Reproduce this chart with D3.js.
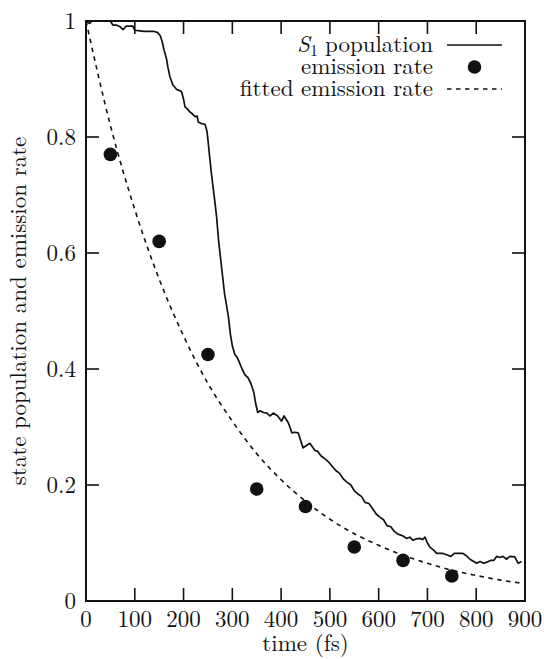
<!DOCTYPE html>
<html><head><meta charset="utf-8">
<script src="https://cdn.jsdelivr.net/npm/d3@7"></script>
<style>
body{margin:0;background:#fff;}
</style></head>
<body><svg id="c" width="544" height="659"></svg>
<script>
const popTime = [0,4,8,12,30,50,55,62,70,76,82,90,96,100,110,120,130,140,147,152,156,160,165,168,172,178,186,192,196,200,203,208,213,218,224,228,230,237,244,248,250,253,257,261,264,268,272,276,280,284,288,292,296,300,305,310,315,320,326,332,338,344,348,352,357,364,371,377,384,393,401,406,415,422,428,435,445,452,459,469,475,482,490,497,505,512,520,528,535,543,550,557,565,572,580,587,595,602,610,617,625,632,640,644,650,657,664,670,677,684,690,695,700,705,712,719,725,732,742,748,755,762,773,780,787,795,801,808,815,822,829,836,842,848,855,862,869,879,886,893];
const popValue = [1.0,0.997,0.996,1.0,1.0,1.0,0.993,0.993,0.99,0.985,0.991,0.991,0.991,0.984,0.983,0.982,0.982,0.982,0.98,0.975,0.965,0.95,0.935,0.92,0.904,0.89,0.882,0.88,0.878,0.865,0.852,0.848,0.843,0.84,0.835,0.836,0.826,0.823,0.822,0.81,0.795,0.77,0.738,0.71,0.69,0.66,0.62,0.59,0.56,0.53,0.51,0.49,0.46,0.44,0.425,0.42,0.41,0.40,0.39,0.385,0.375,0.36,0.34,0.325,0.328,0.325,0.324,0.319,0.324,0.319,0.31,0.319,0.307,0.29,0.291,0.29,0.264,0.268,0.272,0.26,0.258,0.25,0.245,0.24,0.232,0.225,0.22,0.21,0.205,0.2,0.19,0.185,0.18,0.17,0.168,0.16,0.15,0.145,0.14,0.13,0.128,0.12,0.115,0.114,0.112,0.108,0.11,0.105,0.107,0.108,0.106,0.11,0.1,0.093,0.088,0.082,0.082,0.082,0.079,0.077,0.082,0.082,0.082,0.078,0.072,0.068,0.065,0.068,0.065,0.067,0.07,0.07,0.077,0.075,0.077,0.072,0.077,0.076,0.065,0.068];
const emisTime = [50,150,250,350,450,550,650,750];
const emisValue = [0.77,0.62,0.425,0.193,0.163,0.093,0.07,0.043];
const fitTime = [0,50,100,150,200,250,300,350,400,450,500,550,600,650,700,750,800,850,900];
const fitValue = [1,0.82,0.675,0.555,0.457,0.375,0.31,0.254,0.209,0.172,0.141,0.116,0.096,0.079,0.065,0.053,0.044,0.036,0.03];
const xTicks = [0,100,200,300,400,500,600,700,800,900];
const yTicks = [0,0.2,0.4,0.6,0.8,1];
const yTickLabels = ["0","0.2","0.4","0.6","0.8","1"];
const legendLabels = ["population","emission rate","fitted emission rate"];

const FONT = '"Latin Modern Roman","CMU Serif","Liberation Serif",serif';
const svg = d3.select("#c");
const L=86,R=525,T=21,B=601;
const x = d3.scaleLinear().domain([0,900]).range([L,R]);
const y = d3.scaleLinear().domain([0,1]).range([B,T]);
const tl = 13, fs = 23, ink="#111";
function txt(sel){ return sel.append("text").style("font-family",FONT).attr("fill",ink); }

// ticks (inward, all four sides)
const tg = svg.append("g").attr("stroke",ink).attr("stroke-width",1.6);
xTicks.forEach(t=>{
  tg.append("line").attr("x1",x(t)).attr("x2",x(t)).attr("y1",B).attr("y2",B-tl);
  tg.append("line").attr("x1",x(t)).attr("x2",x(t)).attr("y1",T).attr("y2",T+tl);
});
yTicks.forEach(v=>{
  tg.append("line").attr("x1",L).attr("x2",L+tl).attr("y1",y(v)).attr("y2",y(v));
  tg.append("line").attr("x1",R).attr("x2",R-tl).attr("y1",y(v)).attr("y2",y(v));
});
// tick labels
xTicks.forEach(t=>{
  txt(svg).attr("x",x(t)).attr("y",B+26).attr("text-anchor","middle").attr("font-size",fs).text(t);
});
yTicks.forEach((v,i)=>{
  txt(svg).attr("x",L-10).attr("y",y(v)+8).attr("text-anchor","end").attr("font-size",fs).text(yTickLabels[i]);
});
// axis titles
txt(svg).attr("x",(L+R)/2).attr("y",651).attr("text-anchor","middle").attr("font-size",fs).text("time (fs)");
txt(svg).attr("transform",`translate(26,${(T+B)/2}) rotate(-90)`)
  .attr("text-anchor","middle").attr("font-size",fs).text("state population and emission rate");

// clip
svg.append("clipPath").attr("id","clip").append("rect").attr("x",L).attr("y",T).attr("width",R-L).attr("height",B-T);
const pg = svg.append("g").attr("clip-path","url(#clip)");

// fitted dashed
const fitData = fitTime.map((t,i)=>[t,fitValue[i]]);
pg.append("path").datum(fitData)
  .attr("d",d3.line().x(d=>x(d[0])).y(d=>y(d[1])).curve(d3.curveMonotoneX))
  .attr("fill","none").attr("stroke",ink).attr("stroke-width",1.6).attr("stroke-dasharray","4.5,4.5");
// population
const popData = popTime.map((t,i)=>[t,popValue[i]]);
pg.append("path").datum(popData)
  .attr("d",d3.line().x(d=>x(d[0])).y(d=>y(d[1])))
  .attr("fill","none").attr("stroke",ink).attr("stroke-width",1.7).attr("stroke-linejoin","round");
// dots
svg.append("g").selectAll("circle").data(emisTime.map((t,i)=>[t,emisValue[i]])).join("circle")
  .attr("cx",d=>x(d[0])).attr("cy",d=>y(d[1])).attr("r",6.8).attr("fill",ink);

// frame
svg.append("rect").attr("x",L).attr("y",T).attr("width",R-L).attr("height",B-T)
  .attr("fill","none").attr("stroke",ink).attr("stroke-width",2);

// legend
const lx = 433, ly=[45,67,89], sx1=447, sx2=502;
const popText = txt(svg).attr("x",lx).attr("y",ly[0]+7).attr("text-anchor","end").attr("font-size",fs).text(legendLabels[0]);
const pw = popText.node().getComputedTextLength();
const subText = txt(svg).attr("x",lx-pw-7).attr("y",ly[0]+11).attr("text-anchor","end").attr("font-size",16).text("1");
const sw = subText.node().getComputedTextLength();
txt(svg).attr("x",lx-pw-7-sw).attr("y",ly[0]+7).attr("text-anchor","end").attr("font-size",fs).attr("font-style","italic").text("S");
txt(svg).attr("x",lx).attr("y",ly[1]+7).attr("text-anchor","end").attr("font-size",fs).text(legendLabels[1]);
txt(svg).attr("x",lx).attr("y",ly[2]+7).attr("text-anchor","end").attr("font-size",fs).text(legendLabels[2]);
svg.append("line").attr("x1",sx1).attr("x2",sx2).attr("y1",ly[0]).attr("y2",ly[0]).attr("stroke",ink).attr("stroke-width",1.7);
svg.append("circle").attr("cx",(sx1+sx2)/2).attr("cy",ly[1]).attr("r",6.8).attr("fill",ink);
svg.append("line").attr("x1",sx1).attr("x2",sx2).attr("y1",ly[2]).attr("y2",ly[2]).attr("stroke",ink).attr("stroke-width",1.6).attr("stroke-dasharray","4.5,4.5");
</script></body></html>
